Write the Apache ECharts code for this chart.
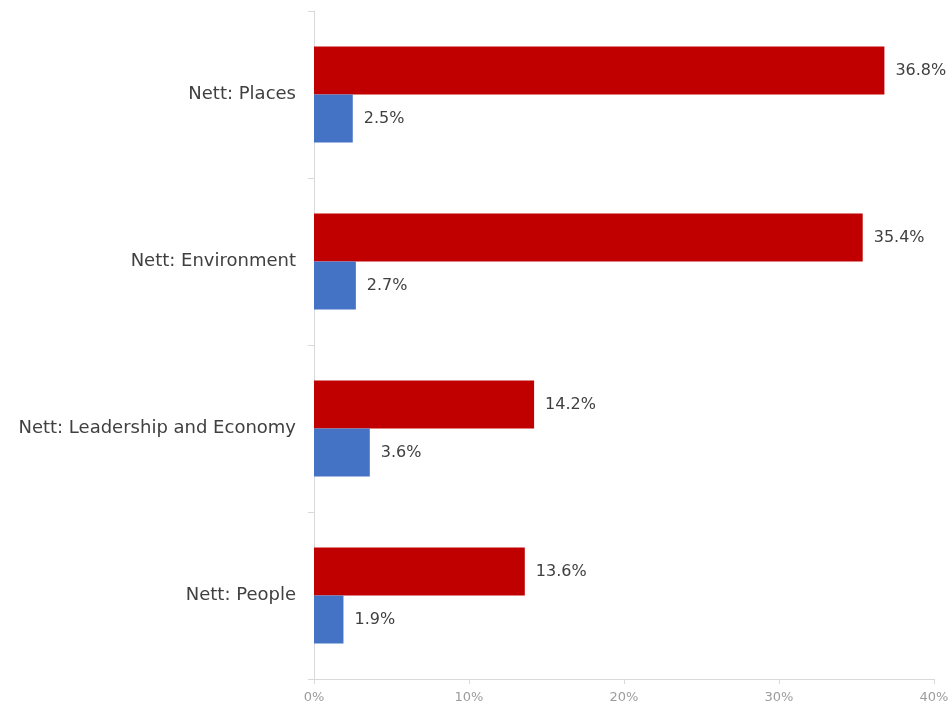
<!DOCTYPE html>
<html>
<head>
<meta charset="utf-8">
<script src="https://cdn.jsdelivr.net/npm/echarts@6/dist/echarts.min.js"></script>
<style>
  html, body { margin: 0; padding: 0; background: #ffffff; }
  #chart { width: 952px; height: 706px; }
</style>
</head>
<body>
<div id="chart"></div>
<script>
// Themes, listed top to bottom
const categories = ['Nett: Places', 'Nett: Environment', 'Nett: Leadership and Economy', 'Nett: People'];
// Share of mentions (%) for the two groups
const redValues = [36.8, 35.4, 14.2, 13.6];
const blueValues = [2.5, 2.7, 3.6, 1.9];
const xTicks = [0, 10, 20, 30, 40];

const chart = echarts.init(document.getElementById('chart'), null, { renderer: 'canvas' });

const font = '"DejaVu Sans", sans-serif';
const valueLabel = {
  show: true,
  position: 'right',
  formatter: p => p.value.toFixed(1) + '%',
  color: '#404040',
  fontSize: 16,
  fontFamily: font,
  distance: 11
};

chart.setOption({
  animation: false,
  grid: { left: 314, right: 18, top: 11, bottom: 27, containLabel: false },
  xAxis: {
    type: 'value',
    min: xTicks[0],
    max: xTicks[xTicks.length - 1],
    interval: 10,
    axisLine: { show: true, lineStyle: { color: '#d9d9d9', width: 1 } },
    axisTick: { show: true, length: 5, lineStyle: { color: '#d9d9d9' } },
    splitLine: { show: false },
    axisLabel: { formatter: '{value}%', color: '#9c9c9c', fontSize: 13, fontFamily: font, margin: 12 }
  },
  yAxis: {
    type: 'category',
    data: categories,
    inverse: true,
    axisLine: { show: true, lineStyle: { color: '#d9d9d9', width: 1 } },
    axisTick: { show: true, length: 6, lineStyle: { color: '#d9d9d9' } },
    axisLabel: { color: '#404040', fontSize: 18, fontFamily: font, margin: 18 }
  },
  series: [
    {
      name: 'Red',
      type: 'bar',
      data: redValues,
      barWidth: 48,
      barGap: '0%',
      itemStyle: { color: '#c00000' },
      label: valueLabel
    },
    {
      name: 'Blue',
      type: 'bar',
      data: blueValues,
      barWidth: 48,
      barGap: '0%',
      itemStyle: { color: '#4472c4' },
      label: valueLabel
    }
  ]
});
</script>
</body>
</html>
